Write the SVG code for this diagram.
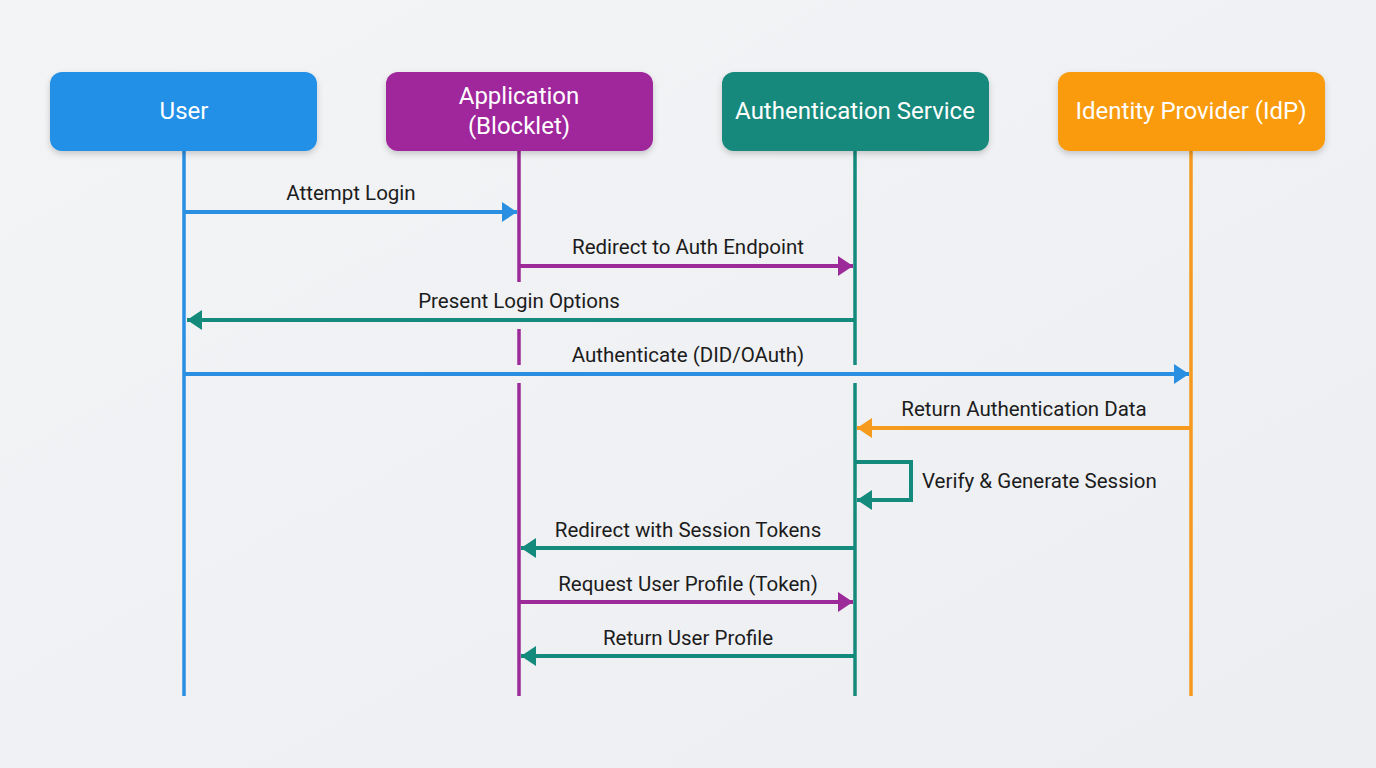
<svg xmlns="http://www.w3.org/2000/svg" width="1376" height="768" viewBox="0 0 1376 768">
<defs>
<linearGradient id="bg" x1="0" y1="0" x2="1" y2="1">
<stop offset="0" stop-color="#f3f4f6"/>
<stop offset="1" stop-color="#eceef1"/>
</linearGradient>
<filter id="sh" x="-10%" y="-20%" width="120%" height="150%">
<feDropShadow dx="0" dy="3" stdDeviation="3" flood-color="#000" flood-opacity="0.18"/>
</filter>
<marker id="mb" viewBox="0 0 15 20" refX="15" refY="10" markerWidth="15" markerHeight="20" markerUnits="userSpaceOnUse" orient="auto"><path d="M0,0 L15,10 L0,20 z" fill="#2a8fe0"/></marker>
<marker id="mp" viewBox="0 0 15 20" refX="15" refY="10" markerWidth="15" markerHeight="20" markerUnits="userSpaceOnUse" orient="auto"><path d="M0,0 L15,10 L0,20 z" fill="#9c2a98"/></marker>
<marker id="mt" viewBox="0 0 15 20" refX="15" refY="10" markerWidth="15" markerHeight="20" markerUnits="userSpaceOnUse" orient="auto"><path d="M0,0 L15,10 L0,20 z" fill="#148a7c"/></marker>
<marker id="mo" viewBox="0 0 15 20" refX="15" refY="10" markerWidth="15" markerHeight="20" markerUnits="userSpaceOnUse" orient="auto"><path d="M0,0 L15,10 L0,20 z" fill="#f59a1c"/></marker>
</defs>
<style>
.hdr{font-family:Roboto,"Liberation Sans",sans-serif;font-size:24px;fill:#ffffff;text-anchor:middle}
.lbl{font-family:Roboto,"Liberation Sans",sans-serif;font-size:20.5px;fill:#1c1c1c;text-anchor:middle}
.life{stroke-width:3.5;fill:none}
.msg{stroke-width:4;fill:none}
.blue{stroke:#2a8fe0}.purple{stroke:#9c2a98}.teal{stroke:#148a7c}.orange{stroke:#f59a1c}
</style>
<rect width="1376" height="768" fill="url(#bg)"/>

<g id="lifelines">
<line class="life blue" x1="184" y1="150" x2="184" y2="696"/>
<line class="life purple" x1="519" y1="150" x2="519" y2="282"/>
<line class="life purple" x1="519" y1="329" x2="519" y2="365"/>
<line class="life purple" x1="519" y1="383" x2="519" y2="696"/>
<line class="life teal" x1="855" y1="150" x2="855" y2="365"/>
<line class="life teal" x1="855" y1="383" x2="855" y2="696"/>
<line class="life orange" x1="1191" y1="150" x2="1191" y2="696"/>
</g>

<g id="user">
<rect x="50" y="72" width="267" height="79" rx="12" fill="#2390e6" filter="url(#sh)"/>
<text class="hdr" x="184" y="119">User</text>
</g>
<g id="application">
<rect x="386" y="72" width="267" height="79" rx="12" fill="#a0289c" filter="url(#sh)"/>
<text class="hdr" x="519" y="104">Application</text>
<text class="hdr" x="519" y="134">(Blocklet)</text>
</g>
<g id="auth-service">
<rect x="722" y="72" width="267" height="79" rx="12" fill="#14897c" filter="url(#sh)"/>
<text class="hdr" x="855" y="119">Authentication Service</text>
</g>
<g id="idp">
<rect x="1058" y="72" width="267" height="79" rx="12" fill="#f99b0c" filter="url(#sh)"/>
<text class="hdr" x="1191" y="119">Identity Provider (IdP)</text>
</g>

<g id="connectors">
<line class="msg blue" x1="184" y1="212" x2="517" y2="212" marker-end="url(#mb)"/>
<text class="lbl" x="351" y="200">Attempt Login</text>

<line class="msg purple" x1="519" y1="266" x2="853" y2="266" marker-end="url(#mp)"/>
<text class="lbl" x="688" y="254">Redirect to Auth Endpoint</text>

<line class="msg teal" x1="855" y1="320" x2="187" y2="320" marker-end="url(#mt)"/>
<text class="lbl" x="519" y="308">Present Login Options</text>

<line class="msg blue" x1="184" y1="374" x2="1189" y2="374" marker-end="url(#mb)"/>
<text class="lbl" x="688" y="362">Authenticate (DID/OAuth)</text>

<line class="msg orange" x1="1191" y1="428" x2="857" y2="428" marker-end="url(#mo)"/>
<text class="lbl" x="1024" y="416">Return Authentication Data</text>

<polyline class="msg teal" points="855,462 911,462 911,500 857,500" marker-end="url(#mt)"/>
<text class="lbl" x="922" y="488" style="text-anchor:start">Verify &amp; Generate Session</text>

<line class="msg teal" x1="855" y1="548" x2="521" y2="548" marker-end="url(#mt)"/>
<text class="lbl" x="688" y="537">Redirect with Session Tokens</text>

<line class="msg purple" x1="519" y1="602" x2="853" y2="602" marker-end="url(#mp)"/>
<text class="lbl" x="688" y="591">Request User Profile (Token)</text>

<line class="msg teal" x1="855" y1="656" x2="521" y2="656" marker-end="url(#mt)"/>
<text class="lbl" x="688" y="645">Return User Profile</text>
</g>
</svg>
